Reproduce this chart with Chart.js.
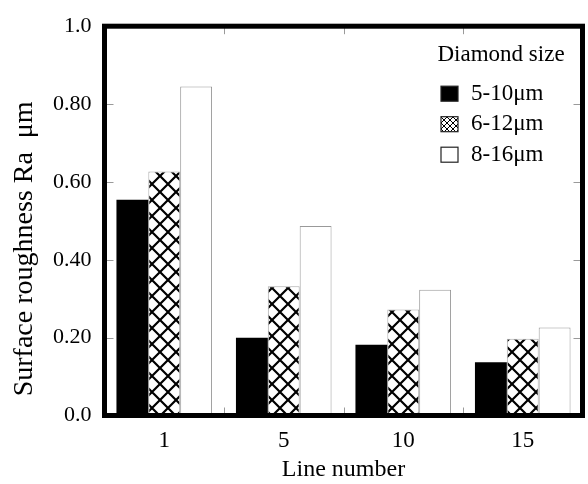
<!DOCTYPE html>
<html>
<head>
<meta charset="utf-8">
<script src="https://cdn.jsdelivr.net/npm/chart.js@4.4.0/dist/chart.umd.min.js"></script>
<style>
  html, body { margin: 0; padding: 0; background: #fff; }
  #wrap { width: 588px; height: 484px; }
</style>
</head>
<body>
<div id="wrap"><canvas id="chart"></canvas></div>
<script>
const lineNumbers = ["1", "5", "10", "15"];
const seriesLabels = ["5-10μm", "6-12μm", "8-16μm"];
const ra5to10 = [0.554, 0.200, 0.182, 0.137];
const ra6to12 = [0.627, 0.332, 0.272, 0.197];
const ra8to16 = [0.845, 0.487, 0.323, 0.226];
const yTickLabels = ["0.0", "0.20", "0.40", "0.60", "0.80", "1.0"];
const legendTitle = "Diamond size";

const serif = "'Liberation Serif', 'Times New Roman', serif";

// diagonal cross hatch used for the middle series
function makeHatch(size, width) {
  const c = document.createElement("canvas");
  c.width = size;
  c.height = size;
  const g = c.getContext("2d");
  g.fillStyle = "#fff";
  g.fillRect(0, 0, size, size);
  g.strokeStyle = "#000";
  g.lineWidth = width;
  g.beginPath();
  g.moveTo(-2, -2);
  g.lineTo(size + 2, size + 2);
  g.moveTo(size + 2, -2);
  g.lineTo(-2, size + 2);
  g.stroke();
  return g.createPattern(c, "repeat");
}

const ctx = document.getElementById("chart").getContext("2d");
const hatch = makeHatch(16, 2.2);
const smallHatch = makeHatch(6, 1);

// frame, inward ticks and the legend box inside the plot
const framePlugin = {
  id: "frame",
  afterDatasetsDraw(chart) {
    const { ctx, chartArea: a, scales } = chart;
    const y = scales.y;
    const x = scales.x;
    ctx.save();
    ctx.strokeStyle = "#9a9a9a";
    ctx.lineWidth = 1;
    ctx.beginPath();
    y.ticks.forEach((t, i) => {
      const py = Math.round(y.getPixelForTick(i)) + 0.5;
      ctx.moveTo(a.left, py);
      ctx.lineTo(a.left + 9, py);
      ctx.moveTo(a.right, py);
      ctx.lineTo(a.right - 9, py);
    });
    const half = (x.getPixelForValue(1) - x.getPixelForValue(0)) / 2;
    for (let i = 0; i < lineNumbers.length - 1; i++) {
      const px = Math.round(x.getPixelForValue(i) + half) + 0.5;
      ctx.moveTo(px, a.bottom);
      ctx.lineTo(px, a.bottom - 8);
      ctx.moveTo(px, a.top);
      ctx.lineTo(px, a.top + 8);
    }
    ctx.stroke();

    ctx.strokeStyle = "#000";
    ctx.lineWidth = 5;
    ctx.strokeRect(a.left, a.top, a.right - a.left, a.bottom - a.top);

    // legend
    ctx.fillStyle = "#000";
    ctx.font = "23px " + serif;
    ctx.textBaseline = "middle";
    ctx.textAlign = "left";
    ctx.fillText(legendTitle, a.right - 145, a.top + 29);
    chart.data.datasets.forEach((ds, i) => {
      const cy = a.top + 67.5 + i * 30.5;
      const bx = a.right - 141.5;
      ctx.fillStyle = i === 1 ? smallHatch : ds.backgroundColor;
      ctx.fillRect(bx, cy - 7.5, 17, 15);
      ctx.strokeStyle = "#222";
      ctx.lineWidth = 1.2;
      ctx.strokeRect(bx, cy - 7.5, 17, 15);
      ctx.fillStyle = "#000";
      ctx.fillText(ds.label, a.right - 111.5, cy);
    });
    ctx.restore();
  }
};

new Chart(ctx, {
  type: "bar",
  data: {
    labels: lineNumbers,
    datasets: [
      {
        label: seriesLabels[0],
        data: ra5to10,
        backgroundColor: "#000",
        borderWidth: 0
      },
      {
        label: seriesLabels[1],
        data: ra6to12,
        backgroundColor: hatch,
        borderColor: "#aaa",
        borderWidth: 1
      },
      {
        label: seriesLabels[2],
        data: ra8to16,
        backgroundColor: "#fff",
        borderColor: "#999",
        borderWidth: 1
      }
    ]
  },
  options: {
    responsive: true,
    maintainAspectRatio: false,
    animation: false,
    layout: {
      padding: { top: 19.5, right: 5.5, left: 0, bottom: 0 }
    },
    datasets: {
      bar: {
        barPercentage: 1.0,
        categoryPercentage: 0.8
      }
    },
    plugins: {
      legend: { display: false },
      tooltip: { enabled: false }
    },
    scales: {
      x: {
        grid: { display: false, drawTicks: false },
        border: { display: false },
        ticks: {
          color: "#000",
          padding: 12,
          font: { size: 23, family: serif, lineHeight: 1.2 }
        },
        title: {
          display: true,
          text: "Line number",
          color: "#000",
          padding: { top: 0, bottom: 0 },
          font: { size: 24, family: serif, lineHeight: 1.2 }
        },
        afterFit(scale) {
          scale.height = 68.5;
        }
      },
      y: {
        min: 0,
        max: 1,
        grid: { display: false, drawTicks: false },
        border: { display: false },
        ticks: {
          stepSize: 0.2,
          color: "#000",
          padding: 13,
          font: { size: 22, family: serif },
          callback: (v, i) => yTickLabels[i]
        },
        title: {
          display: true,
          text: "Surface roughness Ra  μm        ",
          color: "#000",
          padding: { top: 8, bottom: 0 },
          font: { size: 28, family: serif, lineHeight: 1.2 }
        },
        afterFit(scale) {
          scale.width = 104.5;
        }
      }
    }
  },
  plugins: [framePlugin]
});
</script>
</body>
</html>
